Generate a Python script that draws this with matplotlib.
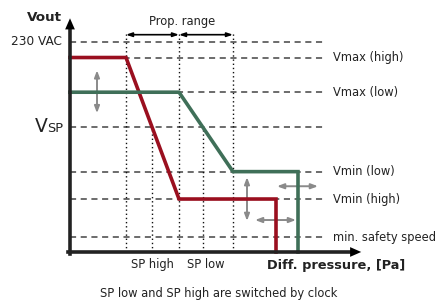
import matplotlib.pyplot as plt

# levels on the Vout axis (volts-ish scale, 230 VAC = top)
level_names = ["Vmax (high)", "Vmax (low)", "Vmin (low)", "Vmin (high)", "min. safety speed"]
level_vals = [213, 175, 88, 58, 16]
v_230 = 230
v_sp = 137

# pressure positions on the x axis
x_red_knee = 56
x_sp_high = 82
x_mid = 109
x_sp_low = 133
x_green_knee = 163
x_red_end = 206
x_green_end = 228
x_dash_end = 255

red_x = [0, x_red_knee, x_mid, x_red_end, x_red_end]
red_y = [213, 213, 58, 58, 0]
green_x = [0, x_mid, x_green_knee, x_green_end, x_green_end]
green_y = [175, 175, 88, 88, 0]

RED = "#9a0f1f"
GREEN = "#3f6f58"
GRAY = "#8a8a8a"
DASH = "#444444"
TXT = "#222222"
FS = 8.3

fig = plt.figure(figsize=(4.38, 3.0), dpi=100)
ax = fig.add_axes([0, 0, 1, 1])
ax.set_xlim(-70, 368)
ax.set_ylim(-52.6, 276)
ax.axis("off")

# dashed levels
for v in [v_230, v_sp] + level_vals:
    ax.plot([0, x_dash_end], [v, v], color=DASH, lw=1.1, dashes=(4, 3), zorder=1)

# dotted verticals
for x in [x_red_knee, x_mid, x_green_knee]:
    ax.plot([x, x], [0, 240], color="#111111", lw=1.0, ls=(0, (1, 2)), zorder=1)
for x in [x_sp_high, x_sp_low]:
    ax.plot([x, x], [0, v_sp], color="#111111", lw=1.0, ls=(0, (1, 2)), zorder=1)

# curves
ax.plot(red_x, red_y, color=RED, lw=2.6, solid_joinstyle="miter", zorder=3)
ax.plot(green_x, green_y, color=GREEN, lw=2.6, solid_joinstyle="miter", zorder=3)

# axes with arrows
ax.plot([0, 0], [-2, 246], color="#222222", lw=2.6, zorder=4, solid_capstyle="projecting")
ax.plot([-2, 282], [0, 0], color="#222222", lw=2.6, zorder=4, solid_capstyle="projecting")
ax.annotate("", xy=(0, 259), xytext=(0, 244),
            arrowprops=dict(arrowstyle="-|>,head_length=0.8,head_width=0.35", color="black", lw=0), zorder=5)
ax.annotate("", xy=(294, 0), xytext=(279, 0),
            arrowprops=dict(arrowstyle="-|>,head_length=0.8,head_width=0.35", color="black", lw=0), zorder=5)

# prop. range arrows
for a, b in [(x_red_knee, x_mid), (x_mid, x_green_knee)]:
    ax.annotate("", xy=(a, 238), xytext=(b, 238),
                arrowprops=dict(arrowstyle="<|-|>,head_length=0.35,head_width=0.12",
                                color="black", lw=1.2, shrinkA=0, shrinkB=0))
ax.text(112, 252, "Prop. range", fontsize=FS, ha="center", va="center", color=TXT)

# gray shift arrows
gray_arrows = [((27, 199), (27, 152)), ((177, 82), (177, 34)),
               ((207, 72), (248, 72)), ((185, 35), (226, 35))]
for p0, p1 in gray_arrows:
    ax.annotate("", xy=p0, xytext=p1,
                arrowprops=dict(arrowstyle="<|-|>,head_length=0.4,head_width=0.15",
                                color=GRAY, lw=1.4, shrinkA=0, shrinkB=0), zorder=2)

# labels
for name, v in zip(level_names, level_vals):
    ax.text(263, v, name, fontsize=FS, va="center", ha="left", color=TXT)
ax.text(-8, v_230, "230 VAC", fontsize=8.7, va="center", ha="right", color=TXT)
ax.text(-35, v_sp - 6, "V", fontsize=13.5, va="baseline", ha="left", color=TXT)
ax.text(-23, v_sp - 6, "SP", fontsize=9.3, va="baseline", ha="left", color=TXT)
ax.text(-26, 257, "Vout", fontsize=9.7, fontweight="bold", va="center", ha="center", color=TXT)

ax.text(x_sp_high, -14, "SP high", fontsize=FS, ha="center", va="center", color=TXT)
ax.text(x_sp_low + 3, -14, "SP low", fontsize=FS, ha="center", va="center", color=TXT)
ax.text(266, -15, "Diff. pressure, [Pa]", fontsize=9.3, fontweight="bold", ha="center", va="center", color=TXT)
ax.text(149, -45, "SP low and SP high are switched by clock", fontsize=FS, ha="center", va="center", color=TXT)

fig.savefig("out.png", dpi=100)
